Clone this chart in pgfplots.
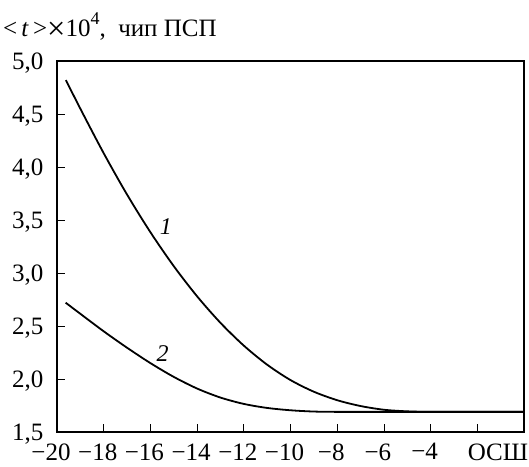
\documentclass[border=0pt]{standalone}
\usepackage{fontspec}
\setmainfont{Liberation Serif}
\usepackage{graphicx}
\usepackage{pgfplots}
\pgfplotsset{compat=1.18}
\usetikzlibrary{calc}
\begin{document}
\begin{tikzpicture}
\begin{axis}[name=ax, scale only axis, width=467pt, height=371pt,
 xmin=-20, xmax=0, ymin=1.5, ymax=5.0,
 axis line style={line width=1.1pt},
 tick align=inside, xtick pos=bottom, ytick pos=left,
 major tick length=8pt, tick style={line width=0.8pt, black},
 xtick={-20,-18,...,0},
 xticklabels={−20,−18,−16,−14,−12,−10,−8,−6,−4,{},{\makebox[0pt][r]{ОСШ\hspace{-10pt}}}},
 ytick={1.5,2,2.5,3,3.5,4,4.5,5},
 yticklabels={{1,5},{2,0},{2,5},{3,0},{3,5},{4,0},{4,5},{5,0}},
 ticklabel style={font=\fontsize{25}{26}\selectfont},
 xticklabel style={xshift=-6pt, yshift=-8pt},
 yticklabel style={xshift=-10pt, yshift=-2pt},
 clip=false,
]
\addplot[smooth, line width=1.8pt, black] coordinates {
(-19.62,4.82) (-19,4.55) (-18,4.13) (-17,3.74) (-16,3.385) (-15,3.065)
(-14,2.78) (-13,2.53) (-12,2.315) (-11,2.135) (-10,1.99) (-9,1.88)
(-8,1.80) (-7,1.745) (-6,1.71) (-5,1.695) (-4,1.69) (-2,1.69) (0,1.69)};
\addplot[smooth, line width=1.8pt, black] coordinates {
(-19.63,2.72) (-19,2.615) (-18,2.45) (-17,2.295) (-16,2.15) (-15,2.02)
(-14,1.91) (-13,1.825) (-12,1.765) (-11,1.727) (-10,1.705) (-9,1.693)
(-8,1.69) (-6,1.69) (-3,1.69) (0,1.69)};
\node[font=\itshape\fontsize{24}{25}\selectfont] at (axis cs:-15.34,3.44) {1};
\node[font=\itshape\fontsize{24}{25}\selectfont] at (axis cs:-15.48,2.24) {2};
\end{axis}
\node[anchor=base west, inner sep=0pt, font=\fontsize{25}{27}\selectfont]
  at ($(ax.north west)+(-54pt,24pt)$)
  {<\,\textit{t}\,>\raisebox{-0.12em}{\scalebox{1.3}{×}}10\raisebox{0.5em}{\fontsize{18}{18}\selectfont 4},\ \ чип ПСП};
\pgfresetboundingbox
\path ($(ax.south west)+(-57pt,-34pt)$) rectangle ($(ax.north east)+(5pt,61pt)$);
\end{tikzpicture}
\end{document}
